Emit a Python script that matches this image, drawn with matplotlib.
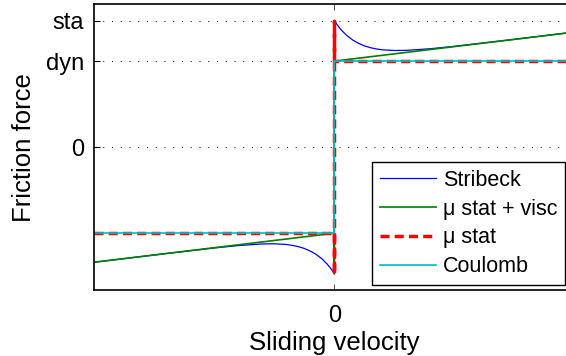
import matplotlib
matplotlib.use("Agg")
import matplotlib.pyplot as plt
import numpy as np

plt.rcParams['font.family'] = ['Liberation Sans', 'DejaVu Sans']

# friction levels (tick positions)
f_dyn = 1.0
f_sta = 1.47
ytick_vals = [0, f_dyn, f_sta]
ytick_labels = ['0', 'dyn', 'sta']

# Stribeck curve, positive branch
v_strib = [0.0, 0.01, 0.02, 0.03, 0.05, 0.075, 0.1, 0.125, 0.15, 0.175,
           0.2, 0.25, 0.3, 0.4, 0.5, 0.7, 1.0]
f_strib = [1.47, 1.429, 1.392, 1.358, 1.302, 1.247, 1.207, 1.177, 1.156, 1.141,
           1.131, 1.123, 1.125, 1.144, 1.172, 1.237, 1.338]

# mu stat + viscous (positive branch)
v_visc = [0.0, 1.0]
f_visc = [1.0, 1.338]

# mu stat and Coulomb (positive branch)
v_coul = [0.0, 1.0]
f_coul = [1.0, 1.0]

fig = plt.figure(figsize=(5.66, 3.56), dpi=100)
ax = fig.add_axes([0.1655, 0.1854, 0.8504, 0.8025])

# full odd-symmetric curves
sv = [-v for v in v_strib[::-1]] + v_strib
sf = [-f for f in f_strib[::-1]] + f_strib
ax.plot(sv, sf, color='#0000ff', lw=0.9, label='Stribeck')

gv = [-v_visc[1], 0, 0, 0, 0, v_visc[1]]
gf = [-f_visc[1], -f_visc[0], -f_sta, f_sta, f_visc[0], f_visc[1]]
ax.plot(gv, gf, color='#008000', lw=1.2, label=u'\u03bc stat + visc')

rv = [-v_coul[1], 0, 0, 0, 0, v_coul[1]]
rf = [-f_coul[1], -f_coul[0], -f_sta, f_sta, f_coul[0], f_coul[1]]
ax.plot(rv, rf, color='#ff0000', lw=2.5, ls=(0, (2.6, 1.5)), label=u'\u03bc stat')

cv = [-v_coul[1], 0, 0, v_coul[1]]
cf = [-f_coul[1], -f_coul[0], f_coul[0], f_coul[1]]
ax.plot(cv, cf, color='#00bfbf', lw=1.2, label='Coulomb')

ax.set_xlim(-1, 1)
ax.set_ylim(-1.66, 1.66)
ax.set_xticks([0])
ax.set_xticklabels(['0'])
ax.set_yticks(ytick_vals)
ax.set_yticklabels(ytick_labels)
ax.yaxis.grid(True, color='black', lw=0.7, ls=(0, (1, 8)))
ax.set_axisbelow(True)

ax.tick_params(direction='in', length=4, width=0.8, labelsize=17,
               top=True, right=True, pad=7)
ax.tick_params(axis='x', colors='#555555', labelcolor='black', pad=11)
for s in ax.spines.values():
    s.set_linewidth(1.2)

ax.set_xlabel('Sliding velocity', fontsize=18.5, labelpad=3)
ax.set_ylabel('Friction force', fontsize=18.5, labelpad=7)

leg = ax.legend(loc='upper left', bbox_to_anchor=(372 / 566, 1 - 162 / 356),
                bbox_transform=fig.transFigure, borderaxespad=0,
                fontsize=15.5, handlelength=2.6, handletextpad=0.35,
                labelspacing=0.37, borderpad=0.35, fancybox=False,
                framealpha=1, edgecolor='black')
leg.get_frame().set_linewidth(1.0)

fig.savefig('out.png', dpi=100)
